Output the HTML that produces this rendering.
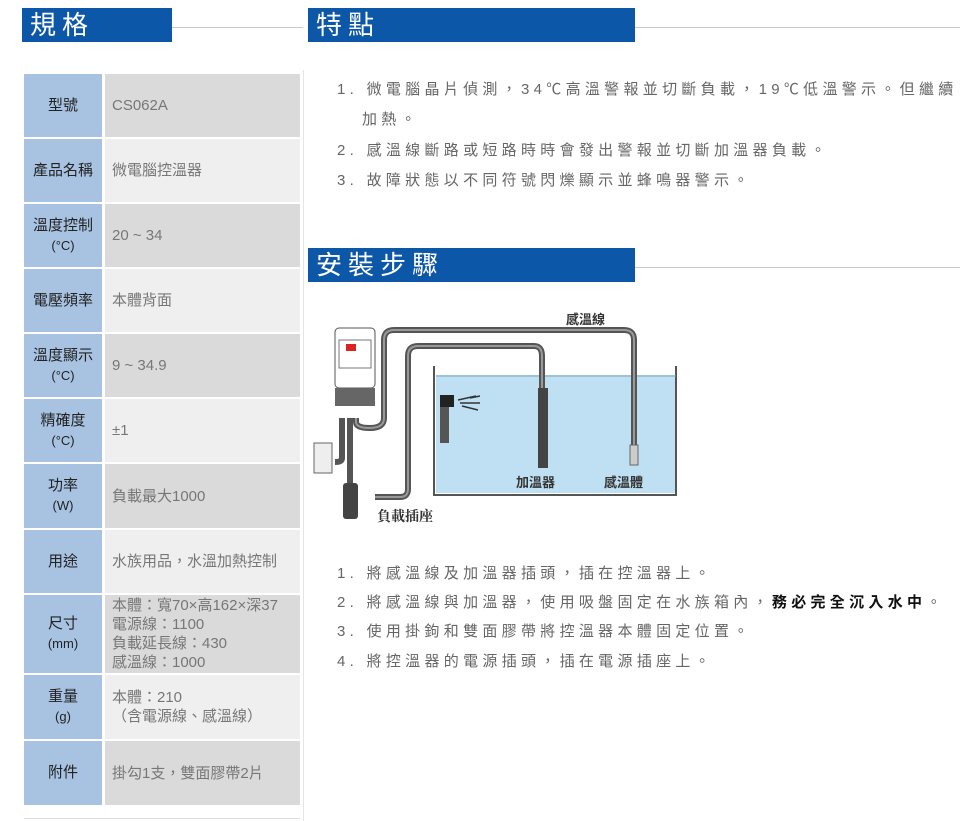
<!DOCTYPE html>
<html><head><meta charset="utf-8"><style>
body{margin:0;width:960px;height:821px;background:#fff;position:relative;overflow:hidden;font-family:"Liberation Sans","Noto Sans CJK TC",sans-serif;}
.hd{position:absolute;background:#0d57a8;color:#fff;font-size:26px;letter-spacing:6px;line-height:34px;padding-left:8px;box-sizing:border-box;height:34px;}
.ln{position:absolute;height:1px;background:#c8c8c8;}
.k{position:absolute;left:24px;width:78px;background:#a8c3e2;color:#222;font-size:15px;display:flex;flex-direction:column;align-items:center;justify-content:center;text-align:center;line-height:20px;}
.k small{font-size:13px;color:#222}
.v{position:absolute;left:105px;width:195px;color:#777;font-size:15px;display:flex;flex-direction:column;justify-content:center;padding-left:7px;box-sizing:border-box;line-height:19px;}
.d{background:#dadada}.l{background:#efefef}
.t{position:absolute;left:337px;font-size:15px;color:#666;letter-spacing:4.3px;white-space:nowrap;}
</style></head><body>
<div class="hd" style="left:22px;top:8px;width:150px">規格</div>
<div class="ln" style="left:172px;top:27px;width:131px"></div>
<div class="hd" style="left:308px;top:8px;width:327px">特點</div>
<div class="ln" style="left:635px;top:27px;width:325px"></div>
<div class="hd" style="left:308px;top:248px;width:327px">安裝步驟</div>
<div class="ln" style="left:635px;top:267px;width:325px"></div>
<div style="position:absolute;left:303px;top:70px;width:1px;height:751px;background:#e4e4e4"></div>
<div style="position:absolute;left:24px;top:818px;width:276px;height:1px;background:#ddd"></div>

<div class="k" style="top:74px;height:63px">型號</div><div class="v d" style="top:74px;height:63px">CS062A</div>
<div class="k" style="top:139px;height:63px">產品名稱</div><div class="v l" style="top:139px;height:63px">微電腦控溫器</div>
<div class="k" style="top:204px;height:63px">溫度控制<small>(°C)</small></div><div class="v d" style="top:204px;height:63px">20 ~ 34</div>
<div class="k" style="top:269px;height:63px">電壓頻率</div><div class="v l" style="top:269px;height:63px">本體背面</div>
<div class="k" style="top:334px;height:63px">溫度顯示<small>(°C)</small></div><div class="v d" style="top:334px;height:63px">9 ~ 34.9</div>
<div class="k" style="top:399px;height:63px">精確度<small>(°C)</small></div><div class="v l" style="top:399px;height:63px">±1</div>
<div class="k" style="top:464px;height:64px">功率<small>(W)</small></div><div class="v d" style="top:464px;height:64px">負載最大1000</div>
<div class="k" style="top:530px;height:63px">用途</div><div class="v l" style="top:530px;height:63px">水族用品，水溫加熱控制</div>
<div class="k" style="top:595px;height:78px">尺寸<small>(mm)</small></div><div class="v d" style="top:595px;height:78px">本體：寬70×高162×深37<br>電源線：1100<br>負載延長線：430<br>感溫線：1000</div>
<div class="k" style="top:675px;height:64px">重量<small>(g)</small></div><div class="v l" style="top:675px;height:64px">本體：210<br>（含電源線、感溫線）</div>
<div class="k" style="top:741px;height:64px">附件</div><div class="v d" style="top:741px;height:64px">掛勾1支，雙面膠帶2片</div>

<div class="t" style="top:78px">1. 微電腦晶片偵測，34℃高溫警報並切斷負載，19℃低溫警示。但繼續</div>
<div class="t" style="top:108px;left:362px">加熱。</div>
<div class="t" style="top:139px">2. 感溫線斷路或短路時時會發出警報並切斷加溫器負載。</div>
<div class="t" style="top:169px">3. 故障狀態以不同符號閃爍顯示並蜂鳴器警示。</div>

<div class="t" style="top:562px">1. 將感溫線及加溫器插頭，插在控溫器上。</div>
<div class="t" style="top:591px">2. 將感溫線與加溫器，使用吸盤固定在水族箱內，<b style="color:#111">務必完全沉入水中</b>。</div>
<div class="t" style="top:620px">3. 使用掛鉤和雙面膠帶將控溫器本體固定位置。</div>
<div class="t" style="top:650px">4. 將控溫器的電源插頭，插在電源插座上。</div>

<svg style="position:absolute;left:0;top:0" width="960" height="821">
<rect x="436" y="375" width="240" height="118" fill="#bfe0f3"/>
<path d="M434 366V495H676V366" fill="none" stroke="#555" stroke-width="2"/>
<line x1="436" y1="376" x2="676" y2="376" stroke="#7ab" stroke-width="1"/>
<g fill="none" stroke="#555" stroke-width="6">
<path d="M356 418V422Q356 428 370 428Q384 428 384 418V340Q384 330 394 330H624Q634 330 634 340V450"/>
<path d="M350 418V500"/>
<path d="M342 418V458Q342 462 335 462"/>
<path d="M375 497H400Q408 497 408 489V356Q408 346 418 346H534Q542 346 542 356V390"/>
</g>
<g fill="none" stroke="#999" stroke-width="2">
<path d="M356 418V422Q356 428 370 428Q384 428 384 418V340Q384 330 394 330H624Q634 330 634 340V450"/>
<path d="M375 497H400Q408 497 408 489V356Q408 346 418 346H534Q542 346 542 356V390"/>
</g>
<rect x="335" y="328" width="40" height="60" rx="4" fill="#fff" stroke="#555"/>
<rect x="339" y="340" width="32" height="28" fill="#fff" stroke="#777"/>
<rect x="346" y="344" width="10" height="7" fill="#d22"/>
<rect x="335" y="388" width="40" height="18" fill="#666"/>
<rect x="314" y="443" width="18" height="30" fill="#eee" stroke="#666"/>
<rect x="343" y="483" width="15" height="36" rx="3" fill="#444"/>
<rect x="538" y="388" width="10" height="80" fill="#444"/>
<rect x="630" y="445" width="8" height="20" fill="#ccc" stroke="#666"/>
<rect x="440" y="395" width="14" height="12" fill="#222"/>
<rect x="440" y="407" width="9" height="36" fill="#555"/>
<path d="M458 400l18-4M460 403l20 0M462 406l16 4M470 398l10-2" stroke="#333" stroke-width="1.5"/>
<g font-family="Liberation Sans,Noto Sans CJK TC,sans-serif" font-weight="bold" fill="#333">
<text x="566" y="324" font-size="13">感溫線</text>
<text x="516" y="487" font-size="13">加溫器</text>
<text x="604" y="487" font-size="13">感溫體</text>
<text x="377" y="521" font-size="14" font-family="Noto Serif CJK SC,serif">負載插座</text>
</g>
</svg>
</body></html>
